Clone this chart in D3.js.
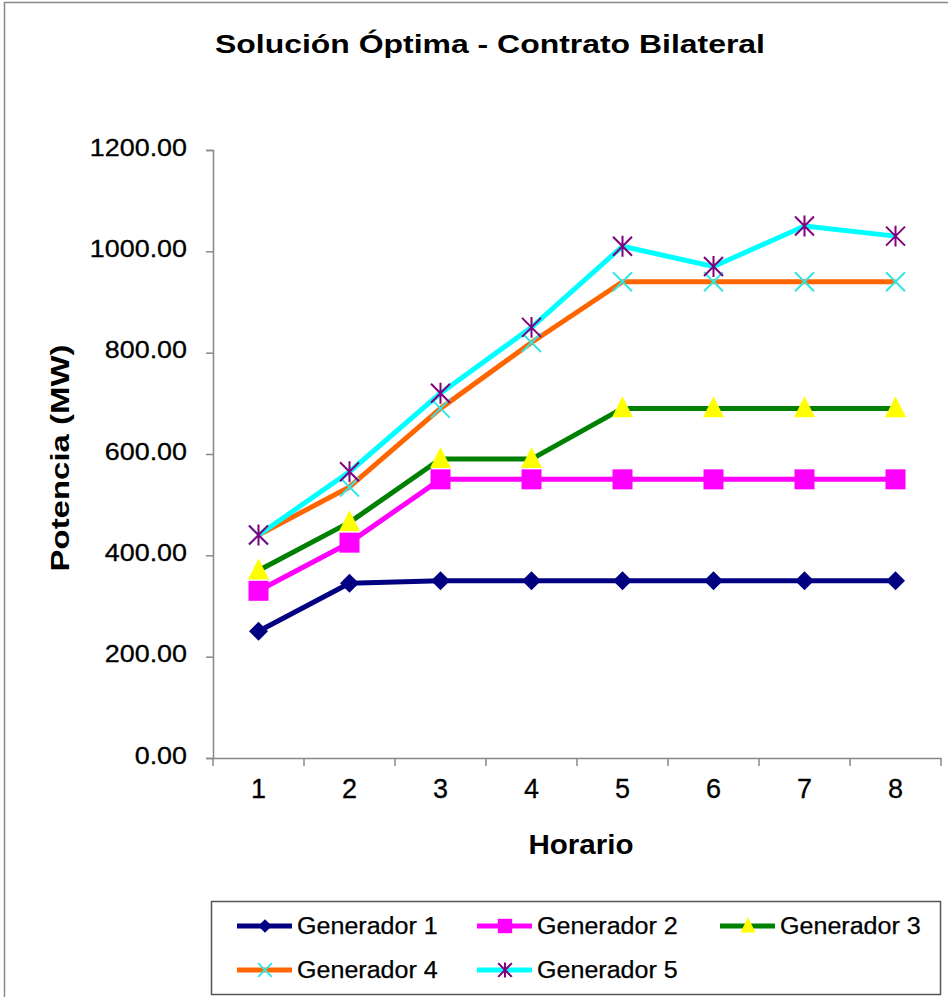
<!DOCTYPE html>
<html>
<head>
<meta charset="utf-8">
<script src="https://cdn.jsdelivr.net/npm/d3@7"></script>
<style>
body { margin: 0; background: #fff; }
text { font-family: "Liberation Sans", Arial, sans-serif; }
</style>
</head>
<body>
<svg id="chart" width="948" height="997"></svg>
<script>
var horas = ["1", "2", "3", "4", "5", "6", "7", "8"];
var gen1 = [250, 345, 350, 350, 350, 350, 350, 350];
var gen2 = [330, 425, 550, 550, 550, 550, 550, 550];
var gen3 = [370, 465, 590, 590, 690, 690, 690, 690];
var gen4 = [440, 535, 690, 820, 940, 940, 940, 940];
var gen5 = [440, 565, 720, 850, 1010, 970, 1050, 1030];
var yTicks = [0, 200, 400, 600, 800, 1000, 1200];
var nombres = ["Generador 1", "Generador 2", "Generador 3", "Generador 4", "Generador 5"];

var series = [
	{name: nombres[0], values: gen1, color: "#000080", mark: "diamond", mcolor: "#000080"},
	{name: nombres[1], values: gen2, color: "#ff00ff", mark: "square", mcolor: "#ff00ff"},
	{name: nombres[2], values: gen3, color: "#008000", mark: "triangle", mcolor: "#ffff00"},
	{name: nombres[3], values: gen4, color: "#ff6600", mark: "x", mcolor: "#33e6e6"},
	{name: nombres[4], values: gen5, color: "#00ffff", mark: "star", mcolor: "#800080"}
];

var svg = d3.select("#chart");

// the source font is a bit wider than Liberation, stretch the texts
function stretch(sel, f) {
	sel.each(function() {
		var w = this.getComputedTextLength();
		d3.select(this).attr("textLength", w * f).attr("lengthAdjust", "spacingAndGlyphs");
	});
}

// outer frame
svg.append("rect")
	.attr("x", 4.5).attr("y", 2.5)
	.attr("width", 960).attr("height", 1010)
	.attr("fill", "none").attr("stroke", "#888").attr("stroke-width", 1.5);

var plotL = 213, plotR = 941, plotT = 150, plotB = 758;

var x = d3.scaleBand().domain(horas).range([plotL, plotR]);
var y = d3.scaleLinear().domain([0, 1200]).range([plotB, plotT]);

// axes
var yAxis = svg.append("g")
	.attr("transform", "translate(" + plotL + ",0)")
	.call(d3.axisLeft(y).tickValues(yTicks).tickSize(7).tickPadding(19).tickFormat(d3.format(".2f")));
yAxis.selectAll("text").style("font-size", "24px").attr("fill", "#000").attr("dy", "0.22em")
	.attr("stroke", "#000").attr("stroke-width", 0.3);
stretch(yAxis.selectAll("text"), 1.12);

var xAxis = svg.append("g")
	.attr("transform", "translate(0," + plotB + ")")
	.call(d3.axisBottom(x).tickSize(0).tickPadding(31));
xAxis.selectAll("text").style("font-size", "27px").attr("fill", "#000").attr("dy", "0.35em")
	.attr("stroke", "#000").attr("stroke-width", 0.3);
// ticks at category boundaries
xAxis.selectAll(".bound")
	.data(horas.concat(["end"]))
	.enter().append("line")
	.attr("x1", function(d, i) { return plotL + i * x.step(); })
	.attr("x2", function(d, i) { return plotL + i * x.step(); })
	.attr("y1", 0).attr("y2", 8)
	.attr("stroke", "#888").attr("stroke-width", 1.5);
svg.selectAll(".domain, .tick line").attr("stroke", "#888").attr("stroke-width", 1.5);

// titles
var title = svg.append("text")
	.attr("x", 490).attr("y", 53)
	.attr("text-anchor", "middle")
	.style("font-size", "26px").style("font-weight", "bold")
	.text("Solución Óptima - Contrato Bilateral");
title.attr("textLength", 550).attr("lengthAdjust", "spacingAndGlyphs");

var xt = svg.append("text")
	.attr("x", 581).attr("y", 854)
	.attr("text-anchor", "middle")
	.style("font-size", "27px").style("font-weight", "bold")
	.text("Horario");
xt.attr("textLength", 105).attr("lengthAdjust", "spacingAndGlyphs");

var yt = svg.append("text")
	.attr("transform", "translate(69,458) rotate(-90)")
	.attr("text-anchor", "middle")
	.style("font-size", "25px").style("font-weight", "bold")
	.text("Potencia (MW)");
yt.attr("textLength", 227).attr("lengthAdjust", "spacingAndGlyphs");

function cx(i) { return x(horas[i]) + x.bandwidth() / 2; }

function drawMark(g, type, color, px, py, s) {
	if (type == "diamond") {
		g.append("path")
			.attr("d", "M" + px + "," + (py - s) + "L" + (px + s) + "," + py + "L" + px + "," + (py + s) + "L" + (px - s) + "," + py + "Z")
			.attr("fill", color);
	} else if (type == "square") {
		g.append("rect")
			.attr("x", px - s).attr("y", py - s).attr("width", 2 * s).attr("height", 2 * s)
			.attr("fill", color);
	} else if (type == "triangle") {
		g.append("path")
			.attr("d", "M" + px + "," + (py - s * 1.15) + "L" + (px + s) + "," + (py + s * 0.85) + "L" + (px - s) + "," + (py + s * 0.85) + "Z")
			.attr("fill", color);
	} else if (type == "x") {
		g.append("path")
			.attr("d", "M" + (px - s) + "," + (py - s) + "L" + (px + s) + "," + (py + s) + "M" + (px + s) + "," + (py - s) + "L" + (px - s) + "," + (py + s))
			.attr("stroke", color).attr("stroke-width", 2).attr("fill", "none");
	} else if (type == "star") {
		g.append("path")
			.attr("d", "M" + (px - s) + "," + (py - s) + "L" + (px + s) + "," + (py + s) + "M" + (px + s) + "," + (py - s) + "L" + (px - s) + "," + (py + s) + "M" + px + "," + (py - s * 1.1) + "L" + px + "," + (py + s * 1.1))
			.attr("stroke", color).attr("stroke-width", 2).attr("fill", "none");
	}
}

var sizes = {diamond: 9.5, square: 10, triangle: 10.5, x: 9.5, star: 9.5};

var line = d3.line()
	.x(function(d, i) { return cx(i); })
	.y(function(d) { return y(d); });

series.forEach(function(s) {
	var g = svg.append("g");
	g.append("path")
		.attr("d", line(s.values))
		.attr("fill", "none")
		.attr("stroke", s.color)
		.attr("stroke-width", 5)
		.attr("stroke-linejoin", "round");
	s.values.forEach(function(v, i) {
		drawMark(g, s.mark, s.mcolor, cx(i), y(v), sizes[s.mark]);
	});
});

// legend
var leg = svg.append("g");
leg.append("rect")
	.attr("x", 211.5).attr("y", 901.5).attr("width", 729).attr("height", 93)
	.attr("fill", "#fff").attr("stroke", "#555").attr("stroke-width", 1.5);

var legPos = [[237, 926], [477, 926], [720, 926], [237, 970], [477, 970]];
series.forEach(function(s, i) {
	var lx = legPos[i][0], ly = legPos[i][1];
	leg.append("line")
		.attr("x1", lx).attr("x2", lx + 55).attr("y1", ly).attr("y2", ly)
		.attr("stroke", s.color).attr("stroke-width", 5);
	drawMark(leg, s.mark, s.mcolor, lx + 28, ly, sizes[s.mark] * 0.72);
	var t = leg.append("text")
		.attr("x", lx + 60).attr("y", ly + 8)
		.style("font-size", "23px")
		.attr("stroke", "#000").attr("stroke-width", 0.25)
		.text(s.name);
	stretch(t, 1.09);
});
</script>
</body>
</html>
